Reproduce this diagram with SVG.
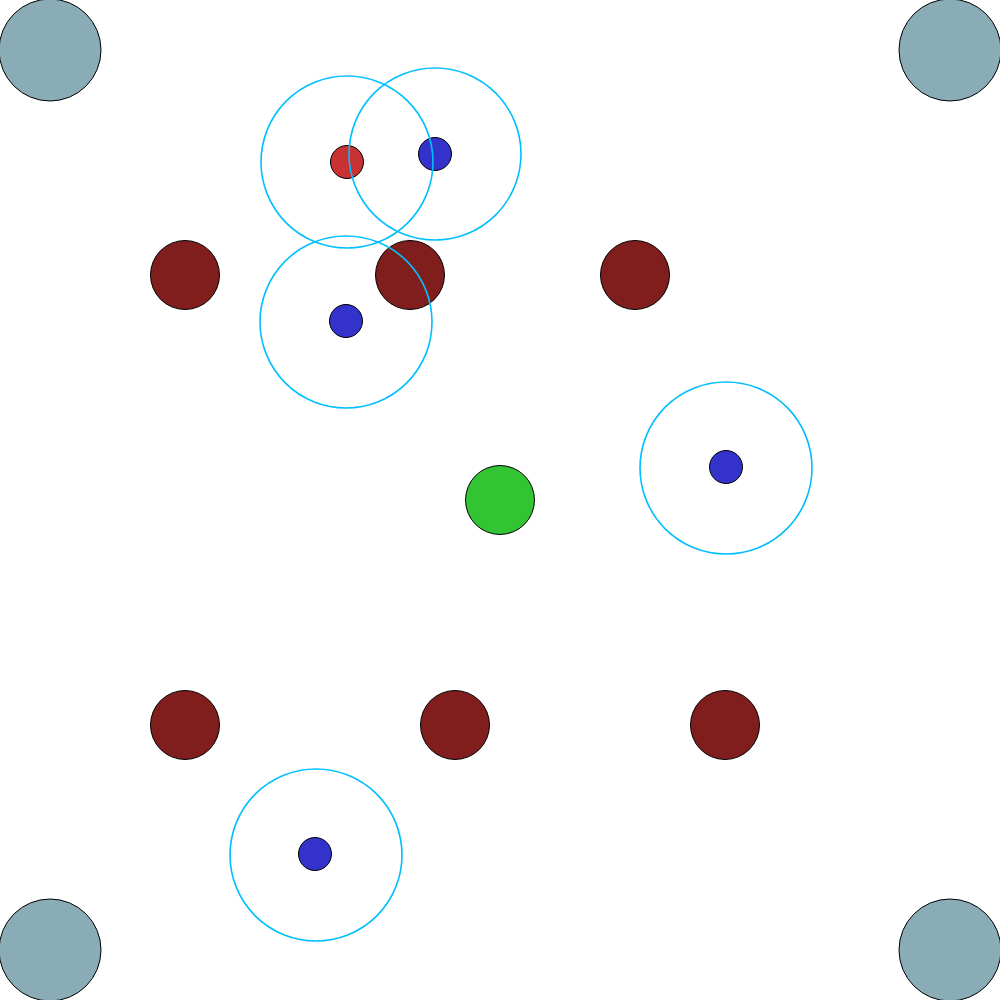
<svg xmlns="http://www.w3.org/2000/svg" width="1000" height="1000" viewBox="0 0 1000 1000">
<style>
.corner{fill:#8aacb6;stroke:#000;stroke-width:1}
.post{fill:#801d1d;stroke:#000;stroke-width:1}
.center{fill:#33c433;stroke:#000;stroke-width:1}
.blue{fill:#3333cc;stroke:#000;stroke-width:1}
.red{fill:#c83232;stroke:#000;stroke-width:1}
.range{fill:none;stroke:#00bfff;stroke-width:1.6}
</style>
<rect width="1000" height="1000" fill="#fff"/>
<g id="corners">
<circle class="corner" cx="50" cy="50" r="51"/>
<circle class="corner" cx="950" cy="50" r="51"/>
<circle class="corner" cx="50" cy="950" r="51"/>
<circle class="corner" cx="950" cy="950" r="51"/>
</g>
<g id="posts">
<circle class="post" cx="185" cy="275" r="34.5"/>
<circle class="post" cx="410" cy="275" r="34.5"/>
<circle class="post" cx="635" cy="275" r="34.5"/>
<circle class="post" cx="185" cy="725" r="34.5"/>
<circle class="post" cx="455" cy="725" r="34.5"/>
<circle class="post" cx="725" cy="725" r="34.5"/>
</g>
<circle id="center" class="center" cx="500" cy="500" r="34.5"/>
<g id="agents">
<circle class="red" cx="347" cy="162" r="16.5"/>
<circle class="blue" cx="435" cy="154" r="16.5"/>
<circle class="blue" cx="346" cy="321" r="16.5"/>
<circle class="blue" cx="726" cy="467" r="16.5"/>
<circle class="blue" cx="315" cy="854" r="16.5"/>
</g>
<g id="ranges">
<circle class="range" cx="347" cy="162" r="86"/>
<circle class="range" cx="435" cy="154" r="86"/>
<circle class="range" cx="346" cy="322" r="86"/>
<circle class="range" cx="726" cy="468" r="86"/>
<circle class="range" cx="316" cy="855" r="86"/>
</g>
</svg>
